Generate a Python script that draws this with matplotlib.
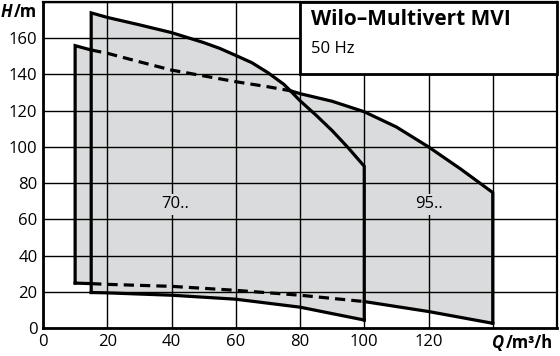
import matplotlib
matplotlib.use('Agg')
import matplotlib.pyplot as plt
from matplotlib.patches import Rectangle

plt.rcParams['font.family'] = ['Open Sans', 'DejaVu Sans']

# pump 70.. envelope
x70_top = [15, 20, 30, 40, 50, 55, 60, 65, 70, 75, 77, 80, 85, 90, 95, 100]
y70_top = [174, 171.5, 167.4, 163.1, 157.6, 154.4, 150.5, 146.5, 141, 134.5, 131, 125.5, 117.5, 109, 99.5, 89.3]
x70_bot = [15, 20, 40, 60, 80, 100]
y70_bot = [19.6, 19.4, 18.1, 15.9, 11.5, 4.4]

# pump 95.. envelope
x95_top = [10, 15, 20, 30, 40, 50, 60, 70, 77, 80, 90, 100, 110, 120, 130, 140]
y95_top = [155.9, 153.5, 151.7, 147, 142.4, 139.2, 136, 133.2, 131, 129.4, 125.2, 119.4, 111, 100, 87.8, 74.8]
x95_bot = [10, 15, 20, 40, 60, 80, 100, 120, 140]
y95_bot = [24.8, 24.5, 24.1, 23, 20.8, 18.1, 14.6, 9.1, 2.6]

xticks = [0, 20, 40, 60, 80, 100, 120, 140, 160]
yticks = [0, 20, 40, 60, 80, 100, 120, 140, 160, 180]

fill_col = '#dadbdc'
lw = 2.3
dash = (0, (3.2, 1.9))

fig = plt.figure(figsize=(5.6, 3.56), dpi=100)
ax = fig.add_axes([43 / 560, 28 / 356, 514 / 560, 326 / 356])

# shaded areas
ax.fill(x70_top + x70_bot[::-1], y70_top + y70_bot[::-1], color=fill_col, lw=0, zorder=1)
ax.fill(x95_top + x95_bot[::-1], y95_top + y95_bot[::-1], color=fill_col, lw=0, zorder=1)

# 70.. outline, all solid
ax.plot([x70_bot[0]] + x70_top + [x70_bot[-1]], [y70_bot[0]] + y70_top + [y70_bot[-1]],
        color='black', lw=lw, zorder=3, solid_joinstyle='miter')
ax.plot(x70_bot, y70_bot, color='black', lw=lw, zorder=3)

# 95.. outline, dashed where it lies inside the 70.. area
ax.plot([x95_bot[0]] + x95_top[:2], [y95_bot[0]] + y95_top[:2], color='black', lw=lw, zorder=3,
        solid_joinstyle='miter')
ax.plot(x95_top[1:9], y95_top[1:9], color='black', lw=lw, ls=dash, zorder=3)
ax.plot(x95_top[8:] + [x95_bot[-1]], y95_top[8:] + [y95_bot[-1]], color='black', lw=lw, zorder=3,
        solid_joinstyle='miter')
ax.plot(x95_bot[:2], y95_bot[:2], color='black', lw=lw, zorder=3)
ax.plot(x95_bot[1:7], y95_bot[1:7], color='black', lw=lw, ls=dash, zorder=3)
ax.plot(x95_bot[6:], y95_bot[6:], color='black', lw=lw, zorder=3)

ax.set_xlim(0, 160)
ax.set_ylim(0, 180)
ax.set_xticks(xticks)
ax.set_yticks(yticks)
# last places are taken by the axis titles
ax.set_xticklabels([str(v) for v in xticks[:-2]] + ['', ''], fontsize=12)
ax.set_yticklabels([str(v) for v in yticks[:-1]] + [''], fontsize=12)
ax.tick_params(length=0, pad=4)
ax.grid(True, color='black', lw=1.0)
ax.set_axisbelow(False)
for side in ['left', 'bottom']:
    ax.spines[side].set_linewidth(2.0)
for side in ['top', 'right']:
    ax.spines[side].set_linewidth(1.6)

# title box
ax.add_patch(Rectangle((80, 140.5), 80, 39.5, facecolor='white', edgecolor='black', lw=2.0,
                       zorder=4, clip_on=False))
ax.text(83.5, 167.2, 'Wilo–Multivert MVI', fontsize=15, fontweight='bold', va='baseline', zorder=5)
ax.text(83.5, 151.8, '50 Hz', fontsize=12, va='baseline', zorder=5)

ax.text(41, 66, '70..', fontsize=12, ha='center', va='baseline', zorder=5,
        bbox=dict(facecolor=fill_col, edgecolor='none', pad=2))
ax.text(120, 66, '95..', fontsize=12, ha='center', va='baseline', zorder=5,
        bbox=dict(facecolor=fill_col, edgecolor='none', pad=2))

# axis titles
fig.text(1 / 560, 1 - 12 / 356, 'H', fontsize=12, fontweight='bold', style='italic', va='center')
fig.text(37 / 560, 1 - 12 / 356, '/m', fontsize=12, fontweight='bold', va='center', ha='right')
fig.text(492 / 560, 1 - 343 / 356, 'Q', fontsize=12, fontweight='bold', style='italic', va='center')
fig.text(506 / 560, 1 - 343 / 356, '/m³/h', fontsize=12, fontweight='bold', va='center', ha='left')

fig.savefig('out.png', dpi=100)
